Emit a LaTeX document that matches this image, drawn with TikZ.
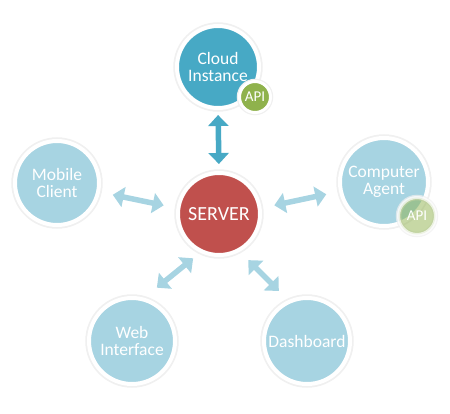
\documentclass[tikz,border=0pt]{standalone}
\usepackage{fontspec}
\setmainfont{Carlito}
\usetikzlibrary{arrows.meta}
\definecolor{cloudblue}{HTML}{47A9C5}
\definecolor{lightblue}{HTML}{A7D4E2}
\definecolor{serverred}{HTML}{C0504D}
\definecolor{apigreen}{HTML}{8FB24C}

\begin{document}
\begin{tikzpicture}[x=1pt,y=-1pt,
    ring/.style={circle,draw=white,text=white,align=center,inner sep=0pt},
    bubble/.style={ring,line width=4pt,font=\fontsize{17.5}{17}\selectfont,
        preaction={draw=black!6,line width=7.5pt}},
    badge/.style={ring,line width=3pt,font=\fontsize{15}{15}\selectfont,
        preaction={draw=black!6,line width=5.5pt}},
    link/.style={line width=5.5pt,lightblue,
        {Triangle[length=11pt,width=20pt]}-{Triangle[length=11pt,width=20pt]}}]
    \useasboundingbox (0,0) rectangle (450,413);

    \node[bubble,fill=cloudblue,minimum size=82pt] (cloud) at (218,67) {Cloud\\Instance};
    \node[badge,fill=apigreen,minimum size=31pt] (api) at (255,97) {API};
    \node[bubble,fill=serverred,minimum size=82pt,font=\fontsize{20}{20}\selectfont] (server) at (219,214) {SERVER};
    \node[bubble,fill=lightblue,minimum size=84pt] (mobile) at (57,183) {Mobile\\Client};
    \node[bubble,fill=lightblue,minimum size=88pt] (agent) at (384,182) {Computer\\Agent};
    \node[badge,fill=apigreen,fill opacity=0.5,draw opacity=0.7,text opacity=1,minimum size=37pt] (agentapi) at (417,216) {API};
    \node[bubble,fill=lightblue,minimum size=86pt] (web) at (132,341) {Web\\Interface};
    \node[bubble,fill=lightblue,minimum size=86pt] (dash) at (307,341) {Dashboard};

    % connectors
    \draw[link,cloudblue,shorten <=5pt,shorten >=7pt] (cloud.270) -- (server.90);
    \draw[link,shorten <=13pt,shorten >=13pt] (mobile.-12) -- (server.172);
    \draw[link,shorten <=13pt,shorten >=13pt] (server.8) -- (agent.192);
    \draw[link,shorten <=9pt,shorten >=16pt] (server.244) -- (web.74);
    \draw[link,shorten <=12pt,shorten >=13pt] (server.-61) -- (dash.115);
\end{tikzpicture}
\end{document}
